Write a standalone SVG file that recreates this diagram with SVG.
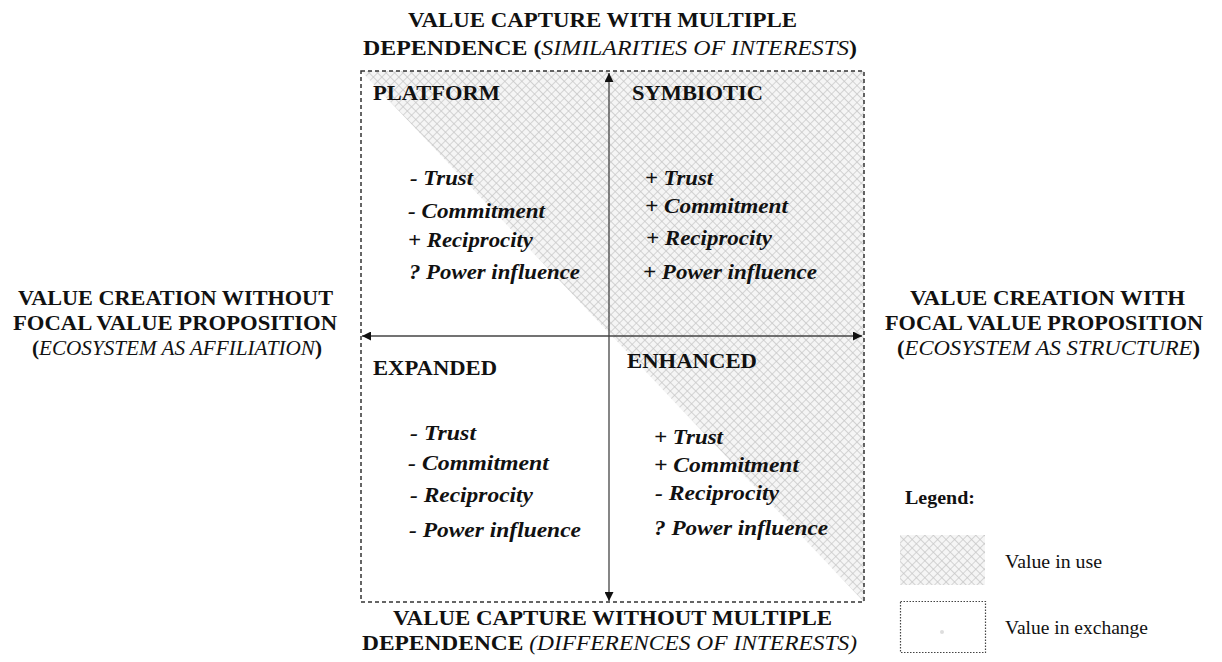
<svg xmlns="http://www.w3.org/2000/svg" width="1222" height="662" viewBox="0 0 1222 662">
<style>
text{font-family:"Liberation Serif","Times New Roman",serif;fill:#111}
.t{font-size:21px;font-weight:bold}
.ti{font-weight:normal;font-style:italic}
.q{font-size:20.5px;font-weight:bold}
.it{font-size:20.5px;font-weight:bold;font-style:italic}
.lg{font-size:18.5px}
.box{fill:none;stroke:#333;stroke-width:1.5;stroke-dasharray:4 3}
.ax{stroke:#444;stroke-width:1.3;fill:none}
</style>
<defs>
<pattern id="hatch" width="6" height="6" patternUnits="userSpaceOnUse" patternTransform="rotate(45)">
<rect width="6" height="6" fill="#f5f5f5"/>
<path d="M0 0H6M0 0V6" stroke="#c6c6c6" stroke-width="1.4"/>
</pattern>
<marker id="ah" viewBox="0 0 10 10" refX="10" refY="5" markerWidth="9" markerHeight="9" markerUnits="userSpaceOnUse" orient="auto">
<path d="M0 0L10 5L0 10z" fill="#111"/>
</marker>
</defs>
<g id="hatched-area">
<polygon points="361,71 864,71 864,602" fill="url(#hatch)"/>
</g>
<g id="frame">
<rect class="box" x="361" y="71" width="503" height="531"/>
</g>
<g id="connectors">
<line class="ax" x1="610" y1="336" x2="362" y2="336" marker-end="url(#ah)"/>
<line class="ax" x1="610" y1="336" x2="862" y2="336" marker-end="url(#ah)"/>
<line class="ax" x1="609" y1="336" x2="609" y2="73" marker-end="url(#ah)"/>
<line class="ax" x1="609" y1="336" x2="609" y2="601" marker-end="url(#ah)"/>
</g>
<g id="title-top">
<text class="t" x="408" y="27" textLength="389" lengthAdjust="spacingAndGlyphs">VALUE CAPTURE WITH MULTIPLE</text>
<text class="t" x="363" y="55" textLength="494" lengthAdjust="spacingAndGlyphs">DEPENDENCE (<tspan class="ti">SIMILARITIES OF  INTERESTS</tspan>)</text>
</g>
<g id="title-bottom">
<text class="t" x="393" y="625" textLength="439" lengthAdjust="spacingAndGlyphs">VALUE CAPTURE WITHOUT MULTIPLE</text>
<text class="t" x="362" y="650" textLength="495" lengthAdjust="spacingAndGlyphs">DEPENDENCE <tspan class="ti">(DIFFERENCES OF INTERESTS)</tspan></text>
</g>
<g id="title-left">
<text class="t" x="18" y="305" textLength="315" lengthAdjust="spacingAndGlyphs">VALUE CREATION WITHOUT</text>
<text class="t" x="13" y="330" textLength="324" lengthAdjust="spacingAndGlyphs">FOCAL VALUE PROPOSITION</text>
<text class="t" x="32" y="355" textLength="290" lengthAdjust="spacingAndGlyphs" font-weight="normal">(<tspan class="ti">ECOSYSTEM AS AFFILIATION</tspan>)</text>
</g>
<g id="title-right">
<text class="t" x="910" y="305" textLength="275" lengthAdjust="spacingAndGlyphs">VALUE CREATION WITH</text>
<text class="t" x="885" y="330" textLength="318" lengthAdjust="spacingAndGlyphs">FOCAL VALUE PROPOSITION</text>
<text class="t" x="897" y="355" textLength="303" lengthAdjust="spacingAndGlyphs" font-weight="normal">(<tspan class="ti">ECOSYSTEM AS STRUCTURE</tspan>)</text>
</g>
<g id="platform">
<text class="q" x="373" y="100" textLength="127" lengthAdjust="spacingAndGlyphs">PLATFORM</text>
<text class="it" x="410" y="185" textLength="63" lengthAdjust="spacingAndGlyphs">- Trust</text>
<text class="it" x="408" y="218" textLength="137" lengthAdjust="spacingAndGlyphs">- Commitment</text>
<text class="it" x="408" y="247" textLength="125" lengthAdjust="spacingAndGlyphs">+ Reciprocity</text>
<text class="it" x="409" y="279" textLength="171" lengthAdjust="spacingAndGlyphs">? Power influence</text>
</g>
<g id="symbiotic">
<text class="q" x="632" y="100" textLength="131" lengthAdjust="spacingAndGlyphs">SYMBIOTIC</text>
<text class="it" x="645" y="185" textLength="68" lengthAdjust="spacingAndGlyphs">+ Trust</text>
<text class="it" x="645" y="213" textLength="143" lengthAdjust="spacingAndGlyphs">+ Commitment</text>
<text class="it" x="646" y="245" textLength="126" lengthAdjust="spacingAndGlyphs">+ Reciprocity</text>
<text class="it" x="643" y="279" textLength="174" lengthAdjust="spacingAndGlyphs">+ Power influence</text>
</g>
<g id="expanded">
<text class="q" x="373" y="375" textLength="124" lengthAdjust="spacingAndGlyphs">EXPANDED</text>
<text class="it" x="410" y="440" textLength="66" lengthAdjust="spacingAndGlyphs">- Trust</text>
<text class="it" x="408" y="470" textLength="141" lengthAdjust="spacingAndGlyphs">- Commitment</text>
<text class="it" x="410" y="502" textLength="123" lengthAdjust="spacingAndGlyphs">- Reciprocity</text>
<text class="it" x="409" y="537" textLength="172" lengthAdjust="spacingAndGlyphs">- Power influence</text>
</g>
<g id="enhanced">
<text class="q" x="627" y="368" textLength="130" lengthAdjust="spacingAndGlyphs">ENHANCED</text>
<text class="it" x="654" y="444" textLength="69" lengthAdjust="spacingAndGlyphs">+ Trust</text>
<text class="it" x="654" y="472" textLength="145" lengthAdjust="spacingAndGlyphs">+ Commitment</text>
<text class="it" x="655" y="500" textLength="124" lengthAdjust="spacingAndGlyphs">- Reciprocity</text>
<text class="it" x="654" y="535" textLength="174" lengthAdjust="spacingAndGlyphs">? Power influence</text>
</g>
<g id="legend">
<text class="lg" x="905" y="504" font-weight="bold" textLength="70" lengthAdjust="spacingAndGlyphs">Legend:</text>
<rect x="900" y="535" width="85" height="50" fill="url(#hatch)"/>
<text class="lg" x="1005" y="568" textLength="97" lengthAdjust="spacingAndGlyphs">Value in use</text>
<rect x="900.5" y="601.5" width="85" height="51" fill="#fff" stroke="#444" stroke-width="1.2" stroke-dasharray="1.5 1.5"/>
<circle cx="942" cy="632" r="2" fill="#ddd"/>
<text class="lg" x="1005" y="634" textLength="143" lengthAdjust="spacingAndGlyphs">Value in exchange</text>
</g>
</svg>
